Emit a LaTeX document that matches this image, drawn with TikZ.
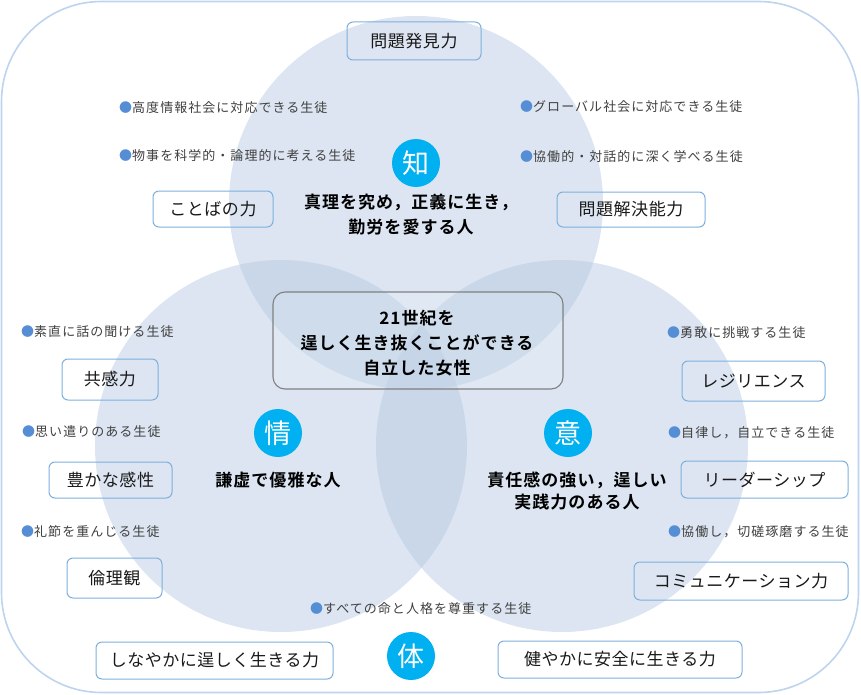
\documentclass[tikz,border=0pt]{standalone}
\usepackage{fontspec}
\newfontfamily\bulletfont{Noto Sans CJK JP}[LetterSpace=8]
\newfontfamily\boxfont{Noto Sans CJK JP}[LetterSpace=3]
\newfontfamily\headfont{Noto Sans CJK JP}[LetterSpace=6,BoldFont=* Bold]
\newfontfamily\badgefont{Noto Sans CJK JP}
\definecolor{framec}{RGB}{190,212,238}
\definecolor{circc}{RGB}{178,198,224}
\definecolor{boxc}{RGB}{125,175,222}
\definecolor{bulc}{RGB}{85,142,213}
\definecolor{grtext}{RGB}{64,64,64}
\definecolor{badgec}{RGB}{0,176,240}
\definecolor{cboxc}{RGB}{128,128,128}
\tikzset{
  bigcirc/.style={fill=circc,fill opacity=0.45,draw=none},
  kbox/.style={draw=boxc,line width=1pt,rounded corners=6pt,inner sep=0pt,
    font=\boxfont\fontsize{17}{20}\selectfont,text=black!90},
  bul/.style={anchor=west,inner sep=0pt,text=grtext,
    font=\bulletfont\fontsize{13}{16}\selectfont},
  head/.style={align=center,inner sep=0pt,text=black,
    font=\headfont\bfseries\fontsize{17}{25}\selectfont},
  badge/.style={circle,fill=badgec,draw=none,minimum size=48pt,inner sep=0pt,
    text=white,font=\badgefont\fontsize{27}{30}\selectfont}
}
\newcommand{\bdot}{\textcolor{bulc}{●}}
\begin{document}
\begin{tikzpicture}[x=1pt,y=-1pt]
\useasboundingbox (0,0) rectangle (861,695);
% outer frame
\draw[framec,line width=1.6pt,rounded corners=100pt] (1.5,1.5) rectangle (858.5,692.5);
% circles
\fill[bigcirc] (416,203) circle[radius=187pt];
\fill[bigcirc] (281,446) circle[radius=186pt];
\fill[bigcirc] (562,446) circle[radius=186pt];
% center box
\node[draw=cboxc,line width=1.1pt,rounded corners=12pt,minimum width=290pt,minimum height=97pt,
  fill=white,fill opacity=0.12,text opacity=1,inner sep=0pt] (cbox) at (418,340.5) {};
\node[head] (ctext) at (417,343)
  {21世紀を\\逞しく生き抜くことができる\\自立した女性};
% boxes
\node[kbox,minimum width=134pt,minimum height=38pt] (hakken) at (414,41) {問題発見力};
\node[kbox,minimum width=120pt,minimum height=36pt] (kotoba) at (213,209) {ことばの力};
\node[kbox,minimum width=148pt,minimum height=35pt] (kaiketsu) at (631,209.5) {問題解決能力};
\node[kbox,minimum width=96pt,minimum height=41pt] (kyokan) at (110,379.5) {共感力};
\node[kbox,minimum width=123pt,minimum height=36pt] (kansei) at (110.5,480) {豊かな感性};
\node[kbox,minimum width=95pt,minimum height=40pt] (rinri) at (114.5,578) {倫理観};
\node[kbox,minimum width=237pt,minimum height=37pt] (shinayaka) at (214.5,660.5) {しなやかに逞しく生きる力};
\node[kbox,minimum width=143pt,minimum height=40pt] (resil) at (753.5,381) {レジリエンス};
\node[kbox,minimum width=167pt,minimum height=37pt] (leader) at (764.5,479.5) {リーダーシップ};
\node[kbox,minimum width=214pt,minimum height=38pt] (comm) at (741,581) {コミュニケーション力};
\node[kbox,minimum width=244pt,minimum height=37pt] (sukoyaka) at (620,659.5) {健やかに安全に生きる力};
% bullets
\node[bul] (b1) at (119,108) {\bdot 高度情報社会に対応できる生徒};
\node[bul] (b2) at (119,156) {\bdot 物事を科学的・論理的に考える生徒};
\node[bul] (b3) at (520,107) {\bdot グローバル社会に対応できる生徒};
\node[bul] (b4) at (520,157) {\bdot 協働的・対話的に深く学べる生徒};
\node[bul] (b5) at (21,332) {\bdot 素直に話の聞ける生徒};
\node[bul] (b6) at (22,432) {\bdot 思い遣りのある生徒};
\node[bul] (b7) at (21,532) {\bdot 礼節を重んじる生徒};
\node[bul] (b8) at (667,333) {\bdot 勇敢に挑戦する生徒};
\node[bul] (b9) at (668,433) {\bdot 自律し，自立できる生徒};
\node[bul] (b10) at (668,532) {\bdot 協働し，切磋琢磨する生徒};
\node[bul] (b11) at (310,609) {\bdot すべての命と人格を尊重する生徒};
% headings
\node[head] (chitext) at (411,215) {真理を究め，正義に生き，\\勤労を愛する人};
\node[head] (jotext) at (278,480) {謙虚で優雅な人};
\node[head,font=\headfont\bfseries\fontsize{17}{22}\selectfont] (itext) at (577,491) {責任感の強い，逞しい\\実践力のある人};
% badges
\node[badge] (chi) at (416,163) {知};
\node[badge] (jo) at (278,433) {情};
\node[badge] (i) at (568,433) {意};
\node[badge] (tai) at (411,656) {体};
\end{tikzpicture}
\end{document}
